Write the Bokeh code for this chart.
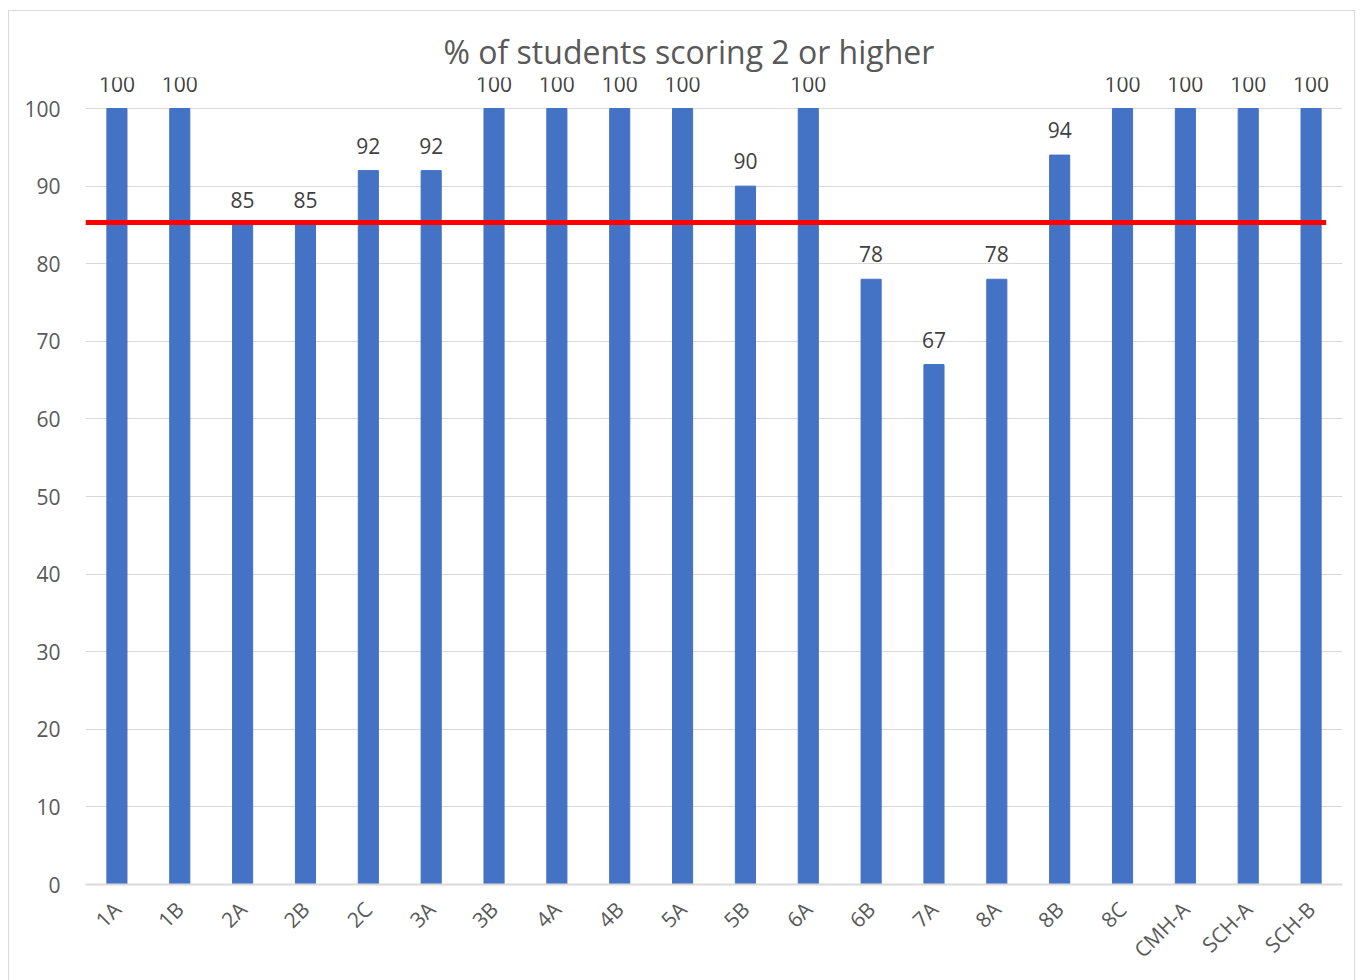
import math
from bokeh.plotting import figure
from bokeh.models import ColumnDataSource, FixedTicker, Range1d, LabelSet
from bokeh.core.properties import value
from bokeh.embed import file_html
from bokeh.resources import INLINE

categories = ["1A", "1B", "2A", "2B", "2C", "3A", "3B", "4A", "4B", "5A",
              "5B", "6A", "6B", "7A", "8A", "8B", "8C", "CMH-A", "SCH-A", "SCH-B"]
scores = [100, 100, 85, 85, 92, 92, 100, 100, 100, 100,
          90, 100, 78, 67, 78, 94, 100, 100, 100, 100]
y_ticks = [0, 10, 20, 30, 40, 50, 60, 70, 80, 90, 100]
threshold = 85.3
threshold_end = 19.24

FONT = "Open Sans"
xs = list(range(len(categories)))
src = ColumnDataSource(dict(x=xs, top=scores, label=[str(s) for s in scores]))

p = figure(width=1347, height=970, output_backend="svg", toolbar_location=None,
           x_range=Range1d(-0.5, len(categories) - 0.5), y_range=Range1d(0, 104),
           min_border_left=76, min_border_right=14, min_border_top=66, min_border_bottom=97,
           margin=(10, 0, 0, 8))
p.styles = {"border": "1px solid #d9d9d9", "border-bottom": "none", "box-sizing": "border-box"}
p.outline_line_color = None
p.title.text = "% of students scoring 2 or higher"
p.title.align = "left"
p.title.offset = 358
p.title.text_font = FONT
p.title.text_font_size = "32px"
p.title.text_font_style = "normal"
p.title.text_color = "#595959"

p.vbar(x="x", top="top", width=0.32, bottom=0, source=src, color="#4472C4")
labels = LabelSet(x="x", y="top", text="label", source=src, text_align="center", text_baseline="bottom",
                  y_offset=17, text_font=value(FONT), text_font_size="21px", text_color="#404040")
p.add_layout(labels)
p.segment(x0=[-0.5], y0=[threshold], x1=[threshold_end], y1=[threshold], line_color="#FF0000", line_width=5)

p.xgrid.grid_line_color = None
p.ygrid.grid_line_color = "#d9d9d9"
p.ygrid.ticker = FixedTicker(ticks=y_ticks)

p.yaxis.ticker = FixedTicker(ticks=y_ticks)
p.yaxis.axis_line_color = None
p.yaxis.major_tick_line_color = None
p.yaxis.minor_tick_line_color = None
p.yaxis.major_label_standoff = 19
p.yaxis.major_label_text_font = FONT
p.yaxis.major_label_text_font_size = "21px"
p.yaxis.major_label_text_color = "#595959"

p.xaxis.ticker = FixedTicker(ticks=xs)
p.xaxis.major_label_overrides = {i: c for i, c in enumerate(categories)}
p.xaxis.axis_line_color = "#d9d9d9"
p.xaxis.axis_line_width = 2
p.xaxis.major_tick_line_color = None
p.xaxis.minor_tick_line_color = None
p.xaxis.major_label_orientation = math.pi / 4
p.xaxis.major_label_standoff = 15
p.xaxis.major_label_text_font = FONT
p.xaxis.major_label_text_font_size = "21px"
p.xaxis.major_label_text_color = "#595959"

open("out.html", "w").write(file_html(p, INLINE))
